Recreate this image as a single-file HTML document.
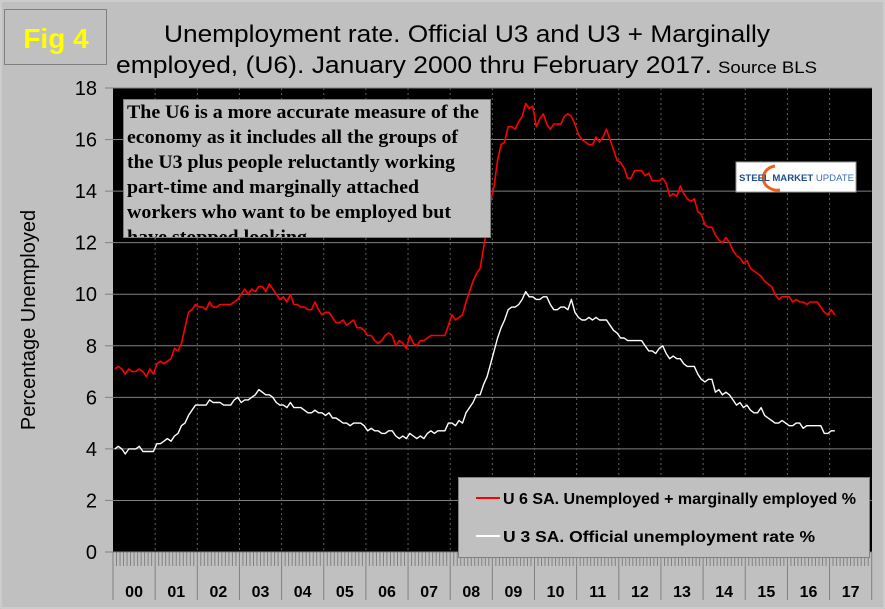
<!DOCTYPE html>
<html><head><meta charset="utf-8"><style>
html,body{margin:0;padding:0;background:#c0c0c0;}
svg{display:block;font-family:"Liberation Sans",Arial,sans-serif;}
</style></head><body>
<svg id="chart" width="885" height="609" viewBox="0 0 885 609" xmlns="http://www.w3.org/2000/svg">
<rect x="0" y="0" width="885" height="609" fill="#c0c0c0"/>
<rect x="1" y="1" width="883" height="607" fill="none" stroke="#d8d8d8" stroke-width="1"/>
<g>
<rect x="4.5" y="9.5" width="102" height="55" fill="#c0c0c0" stroke="#808080"/>
<text x="56" y="48" text-anchor="middle" font-size="28" font-weight="bold" fill="#ffff00">Fig 4</text>
</g>
<text x="164" y="42" font-size="24" textLength="606" lengthAdjust="spacingAndGlyphs" fill="#000">Unemployment rate. Official U3 and U3 + Marginally</text>
<text x="116" y="73" font-size="24" textLength="596" lengthAdjust="spacingAndGlyphs" fill="#000">employed, (U6). January 2000 thru February 2017.</text>
<text x="718" y="73" font-size="17" textLength="99" lengthAdjust="spacingAndGlyphs" fill="#000">Source BLS</text>
<rect x="113" y="88" width="759" height="464" fill="#000"/>
<g id="grid"></g>
<g id="axes"></g>
<g id="series"></g>
<text x="35" y="320" font-size="20" text-anchor="middle" transform="rotate(-90 35 320)" fill="#000">Percentage Unemployed</text>
<g>
<rect x="123.5" y="99.5" width="367" height="138" fill="#c0c0c0" stroke="#808080"/>
<clipPath id="annclip"><rect x="123" y="99" width="368" height="138"/></clipPath>
<g clip-path="url(#annclip)" font-family="'Liberation Serif',serif" font-weight="bold" font-size="19" fill="#000">
<text x="127" y="118" textLength="352" lengthAdjust="spacingAndGlyphs">The U6 is a more accurate measure of the</text>
<text x="127" y="143" textLength="331" lengthAdjust="spacingAndGlyphs">economy as it includes all the groups of</text>
<text x="127" y="168" textLength="328" lengthAdjust="spacingAndGlyphs">the U3 plus people reluctantly working</text>
<text x="127" y="193" textLength="292" lengthAdjust="spacingAndGlyphs">part-time and marginally attached</text>
<text x="127" y="218" textLength="324" lengthAdjust="spacingAndGlyphs">workers who want to be employed but</text>
<text x="127" y="243" textLength="180" lengthAdjust="spacingAndGlyphs">have stopped looking</text>
</g>
</g>
<g>
<rect x="736" y="162" width="120" height="30" fill="#fff" stroke="#999"/>
<path d="M775 166 A14 12 0 1 0 780 190" fill="none" stroke="#e8641e" stroke-width="3"/>
<text x="739" y="181" font-size="9.5" font-weight="bold" fill="#1f4e8c" textLength="115" lengthAdjust="spacingAndGlyphs">STEEL MARKET <tspan font-weight="normal" fill="#3a6db5">UPDATE</tspan></text>
</g>
<g>
<rect x="458.5" y="477.5" width="411" height="80" fill="#c0c0c0" stroke="#808080"/>
<line x1="476" y1="498" x2="500" y2="498" stroke="#ff0000" stroke-width="2"/>
<text x="503" y="504" font-size="16" font-weight="bold" textLength="353" lengthAdjust="spacingAndGlyphs">U 6 SA. Unemployed + marginally employed %</text>
<line x1="476" y1="536" x2="500" y2="536" stroke="#ffffff" stroke-width="2"/>
<text x="503" y="542" font-size="16" font-weight="bold" textLength="312" lengthAdjust="spacingAndGlyphs">U 3 SA. Official unemployment rate %</text>
</g>
</svg>
<script>
const yearLabels = ["00","01","02","03","04","05","06","07","08","09","10","11","12","13","14","15","16","17"];
const yTicks = [0,2,4,6,8,10,12,14,16,18];
const u3 = [
4.0,4.1,4.0,3.8,4.0,4.0,4.0,4.1,3.9,3.9,3.9,3.9,
4.2,4.2,4.3,4.4,4.3,4.5,4.6,4.9,5.0,5.3,5.5,5.7,
5.7,5.7,5.7,5.9,5.8,5.8,5.8,5.7,5.7,5.7,5.9,6.0,
5.8,5.9,5.9,6.0,6.1,6.3,6.2,6.1,6.1,6.0,5.8,5.7,
5.7,5.6,5.8,5.6,5.6,5.6,5.5,5.4,5.4,5.5,5.4,5.4,
5.3,5.4,5.2,5.2,5.1,5.0,5.0,4.9,5.0,5.0,5.0,4.9,
4.7,4.8,4.7,4.7,4.6,4.6,4.7,4.7,4.5,4.4,4.5,4.4,
4.6,4.5,4.4,4.5,4.4,4.6,4.7,4.6,4.7,4.7,4.7,5.0,
5.0,4.9,5.1,5.0,5.4,5.6,5.8,6.1,6.1,6.5,6.8,7.3,
7.8,8.3,8.7,9.0,9.4,9.5,9.5,9.6,9.8,10.1,9.9,9.9,
9.8,9.8,9.9,9.9,9.6,9.4,9.4,9.5,9.5,9.4,9.8,9.3,
9.1,9.0,9.0,9.1,9.0,9.1,9.0,9.0,9.0,8.8,8.6,8.5,
8.3,8.3,8.2,8.2,8.2,8.2,8.2,8.0,7.8,7.8,7.7,7.9,
8.0,7.7,7.5,7.6,7.5,7.5,7.3,7.2,7.2,7.2,6.9,6.7,
6.6,6.7,6.7,6.2,6.3,6.1,6.2,6.1,5.9,5.7,5.8,5.6,
5.7,5.5,5.4,5.4,5.6,5.3,5.2,5.1,5.0,5.0,5.1,5.0,
4.9,4.9,5.0,5.0,4.8,4.9,4.9,4.9,4.9,4.9,4.6,4.6,
4.7,4.7];
const u6 = [
7.1,7.2,7.1,6.9,7.1,7.0,7.0,7.1,7.0,6.8,7.1,6.9,
7.3,7.4,7.3,7.4,7.5,7.9,7.8,8.1,8.7,9.3,9.4,9.6,
9.5,9.5,9.4,9.7,9.5,9.5,9.6,9.6,9.6,9.6,9.7,9.8,
10.0,10.2,10.0,10.2,10.1,10.3,10.3,10.1,10.4,10.2,10.0,9.8,
9.9,9.7,10.0,9.6,9.6,9.5,9.5,9.4,9.4,9.7,9.4,9.2,
9.3,9.3,9.1,8.9,8.9,9.0,8.8,8.9,9.0,8.7,8.7,8.6,
8.4,8.4,8.2,8.1,8.2,8.4,8.5,8.4,8.0,8.2,8.1,7.9,
8.4,8.1,8.0,8.2,8.2,8.3,8.4,8.4,8.4,8.4,8.4,8.8,
9.2,9.0,9.1,9.2,9.7,10.1,10.5,10.8,11.0,11.8,12.6,13.6,
14.2,15.2,15.8,15.9,16.5,16.5,16.4,16.7,16.9,17.4,17.2,17.3,
16.5,16.8,17.0,16.6,16.4,16.6,16.6,16.6,16.9,17.0,16.9,16.6,
16.2,16.0,15.9,15.8,15.8,16.1,15.9,16.1,16.4,16.0,15.6,15.2,
15.1,14.9,14.5,14.5,14.8,14.8,14.8,14.6,14.7,14.4,14.4,14.4,
14.5,14.3,13.8,13.9,13.8,14.2,13.9,13.7,13.6,13.7,13.2,13.1,
12.7,12.6,12.6,12.3,12.1,12.0,12.2,12.0,11.7,11.5,11.4,11.2,
11.3,11.0,10.9,10.8,10.7,10.5,10.4,10.3,10.0,9.8,9.9,9.9,
9.9,9.7,9.8,9.7,9.7,9.6,9.7,9.7,9.7,9.5,9.3,9.2,
9.4,9.2];
const NS='http://www.w3.org/2000/svg';
const X0=113, CW=42.15, Y0=552, PY=464/18;
function xMonth(i){return X0+(i+0.5)*CW/12;}
function yVal(v){return Y0-v*PY;}
function mk(tag,attrs,parent){const e=document.createElementNS(NS,tag);for(const k in attrs)e.setAttribute(k,attrs[k]);parent.appendChild(e);return e;}
const grid=document.getElementById('grid'), axes=document.getElementById('axes'), series=document.getElementById('series');
yTicks.forEach(t=>{
  const y=yVal(t);
  if(t>0){const g=mk('line',{x1:X0,x2:X0+CW*18,y1:y,y2:y,stroke:'#808080','stroke-width':1},grid);
  
  }
  const tk=mk('line',{x1:105,x2:X0,y1:y,y2:y,stroke:'#808080','stroke-width':1},axes);
  
  
  const tl=mk('text',{x:97,y:y+7,'text-anchor':'end','font-size':20,fill:'#000'},axes);
  tl.textContent=t;
  
  
});
yearLabels.forEach((lab,k)=>{
  const x=X0+k*CW;
  if(k>0){const g=mk('line',{x1:x,x2:x,y1:88,y2:Y0,stroke:'#606060','stroke-width':1,'stroke-dasharray':'2,3'},grid);
  
  }
  const s=mk('line',{x1:x,x2:x,y1:Y0,y2:600,stroke:'#808080','stroke-width':1},axes);
  
  
  for(let m=1;m<12;m++){const mx=x+m*CW/12;
    const t=mk('line',{x1:mx,x2:mx,y1:Y0,y2:566,stroke:'#808080','stroke-width':1},axes);
    
    }
  const tl=mk('text',{x:x+CW/2,y:597,'text-anchor':'middle','font-size':16,'font-weight':'bold',fill:'#000'},axes);
  tl.textContent=lab;
  
  
});
const endSep=mk('line',{x1:X0+18*CW,x2:X0+18*CW,y1:Y0,y2:600,stroke:'#808080'},axes);


const axisLine=mk('line',{x1:X0,x2:X0+18*CW,y1:Y0,y2:Y0,stroke:'#808080'},axes);


function pts(arr){return arr.map((v,i)=>xMonth(i).toFixed(1)+','+yVal(v).toFixed(1)).join(' ');}
const l6=mk('polyline',{points:pts(u6),fill:'none',stroke:'#ff0000','stroke-width':1.6,'stroke-linejoin':'round'},series);


const l3=mk('polyline',{points:pts(u3),fill:'none',stroke:'#ffffff','stroke-width':1.4,'stroke-linejoin':'round'},series);


</script>
</body></html>
